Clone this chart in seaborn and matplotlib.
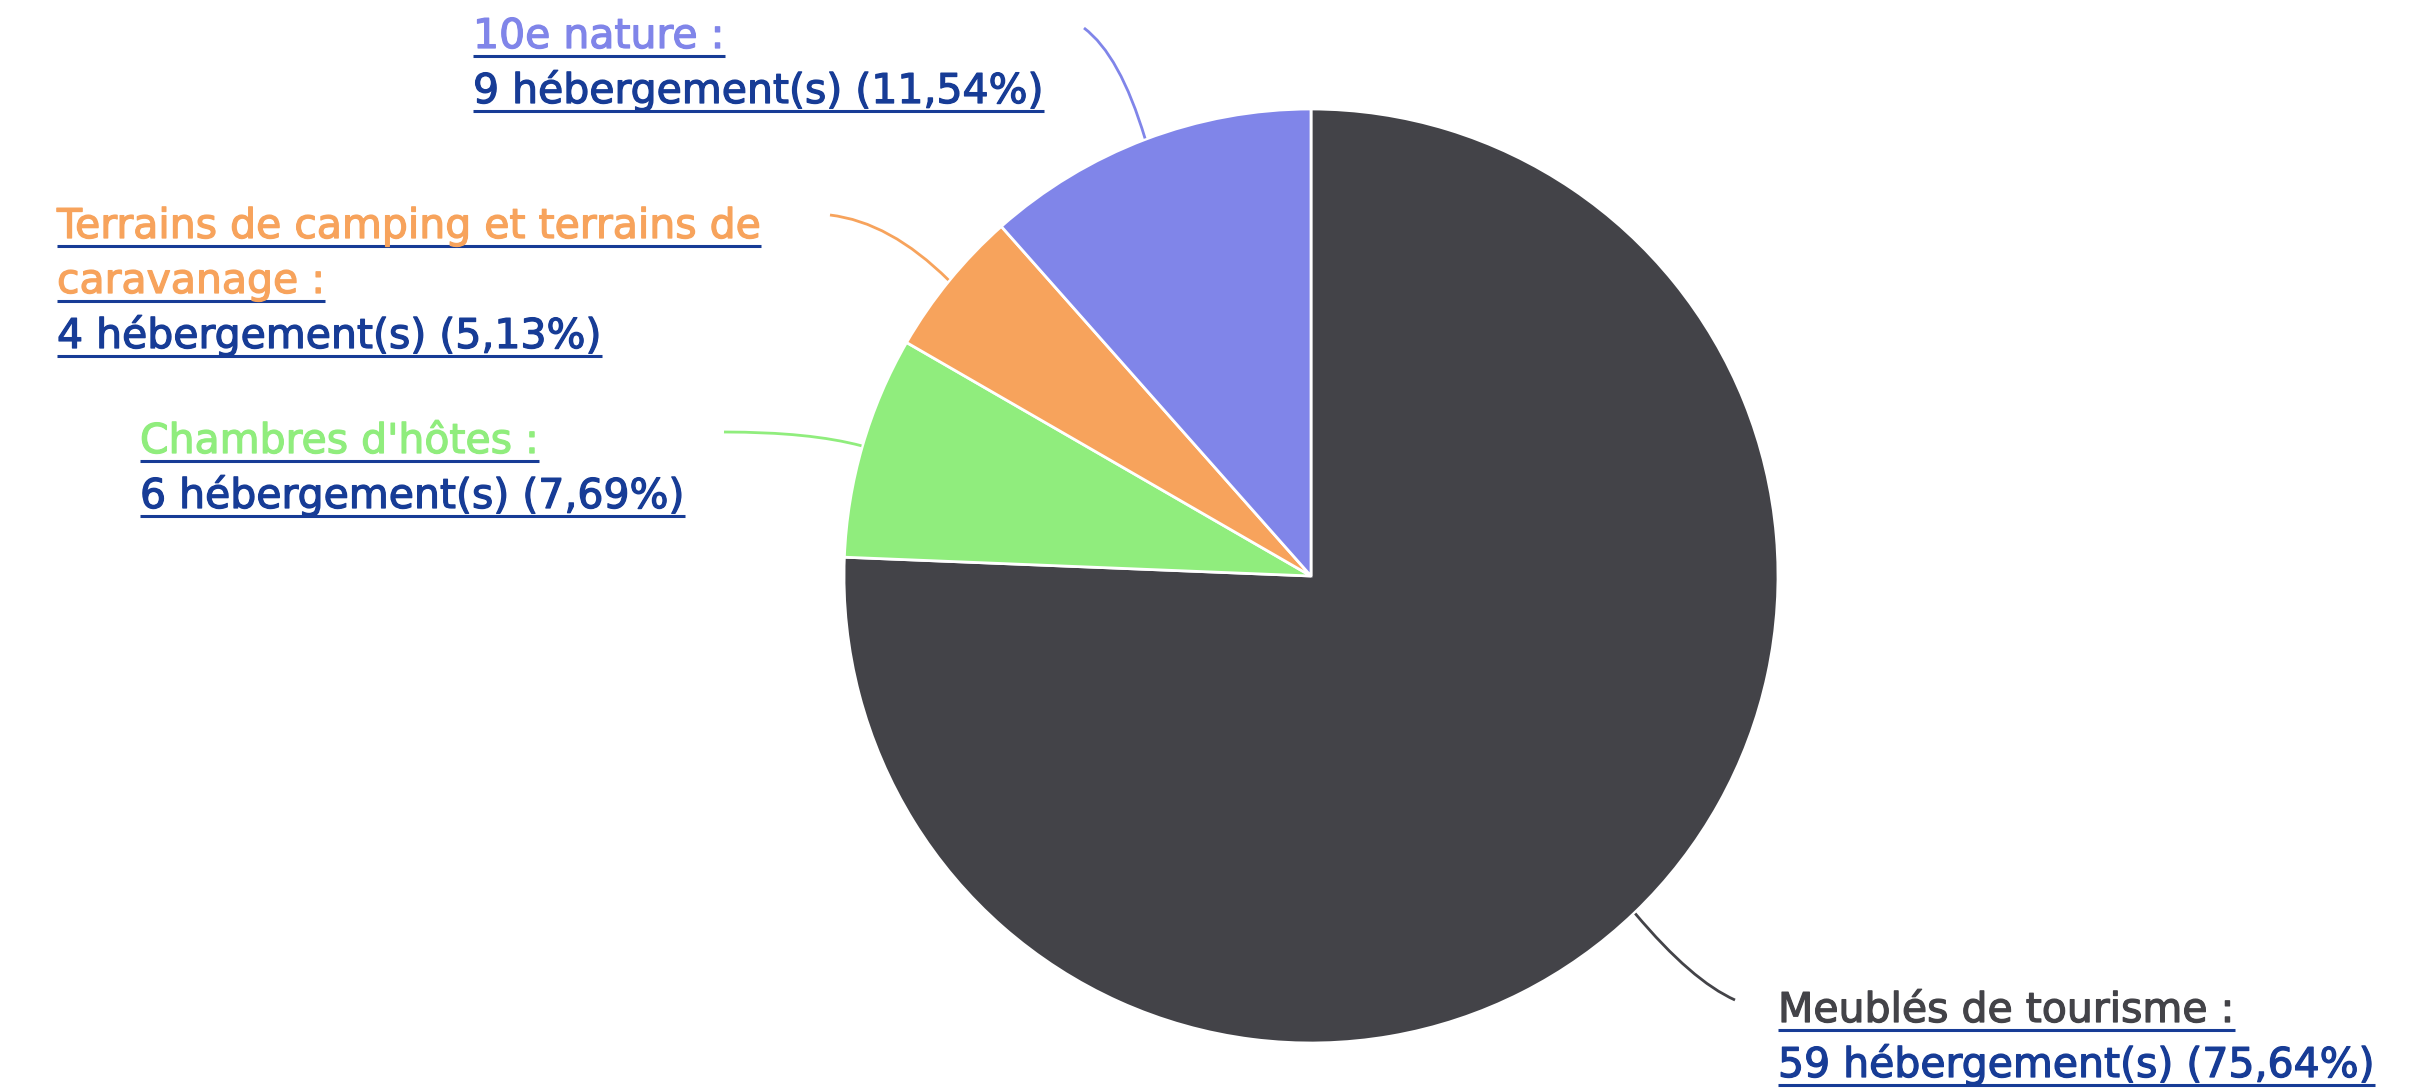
import numpy as np
import seaborn as sns
import matplotlib.pyplot as plt
import matplotlib.patheffects as pe
from matplotlib.path import Path
from matplotlib.patches import PathPatch

# data
categories = ["Meublés de tourisme", "Chambres d'hôtes",
              "Terrains de camping et terrains de caravanage", "10e nature"]
counts = [59, 6, 4, 9]
name_lines = [["Meublés de tourisme :"], ["Chambres d'hôtes :"],
              ["Terrains de camping et terrains de", "caravanage :"], ["10e nature :"]]

sns.set_theme(style="white")
plt.rcParams['font.family'] = ['DejaVu Sans']

colors = sns.color_palette(["#434348", "#90ed7d", "#f7a35c", "#8085e9"])
link = "#173c96"

W, H = 2429, 1089
fig = plt.figure(figsize=(W / 100, H / 100), dpi=100)
ax = fig.add_axes([0, 0, 1, 1])

cx, cy, r = 1311, 576, 467
wedges, _ = ax.pie(counts, colors=colors, center=(cx, cy), radius=r,
                   startangle=-90, counterclock=True,
                   wedgeprops=dict(edgecolor="white", linewidth=2))
ax.set_xlim(0, W)
ax.set_ylim(H, 0)
ax.set_aspect("auto")
ax.axis("off")

# label layout: text x, first baseline, connector end, control point
label_pos = [(1778, 1022), (140, 453), (57, 238), (473, 48)]
conn_end = [(1735, 1000), (724, 432), (830, 215), (1084, 28)]
conn_ctrl = [(1692, 981), (810, 432), (890, 222), (1120, 55)]

total = sum(counts)
fs = 29.5
pitch = 55
renderer = fig.canvas.get_renderer()

for i, w in enumerate(wedges):
    th = np.deg2rad((w.theta1 + w.theta2) / 2)
    sx, sy = cx + (r + 1) * np.cos(th), cy + (r + 1) * np.sin(th)
    path = Path([(sx, sy), conn_ctrl[i], conn_end[i]],
                [Path.MOVETO, Path.CURVE3, Path.CURVE3])
    ax.add_patch(PathPatch(path, fill=False, edgecolor=colors[i], lw=2))

    pct = f"{100 * counts[i] / total:.2f}".replace(".", ",")
    lines = [(t, colors[i]) for t in name_lines[i]]
    lines.append((f"{counts[i]} hébergement(s) ({pct}%)", link))
    x0, y0 = label_pos[i]
    for j, (txt, col) in enumerate(lines):
        y = y0 + j * pitch
        t = ax.text(x0, y, txt, fontsize=fs, color=col, ha="left", va="baseline",
                    path_effects=[pe.withStroke(linewidth=0.9, foreground=col)])
        bb = t.get_window_extent(renderer)
        ax.plot([bb.x0, bb.x1], [y + 8, y + 8], color=link, lw=2.2,
                solid_capstyle="butt")

fig.savefig("out.png", dpi=100, facecolor="white")
